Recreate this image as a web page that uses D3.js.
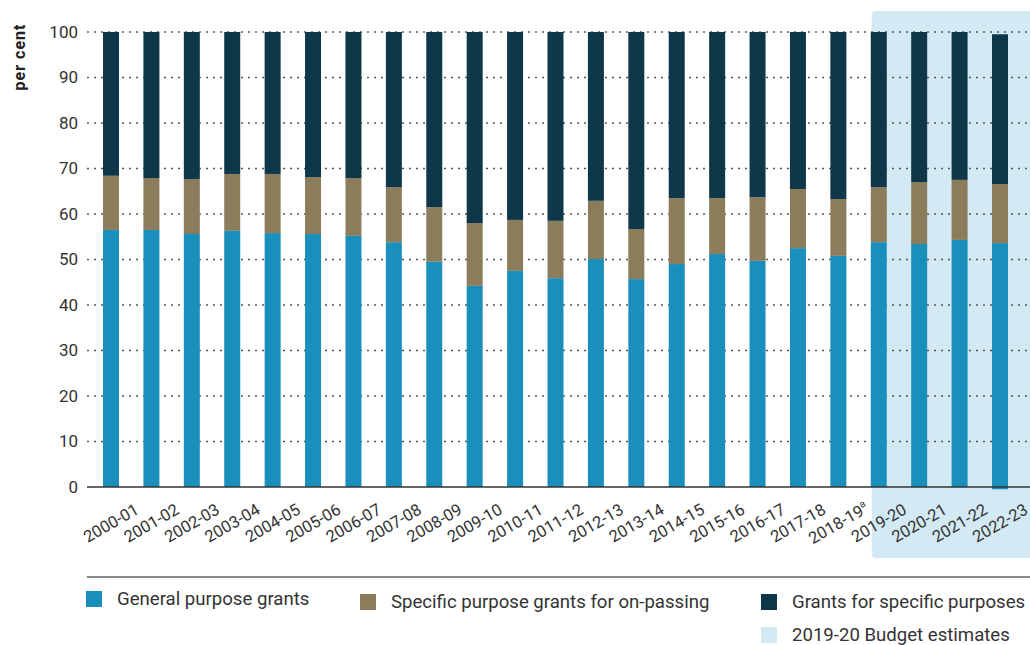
<!DOCTYPE html>
<html>
<head>
<meta charset="utf-8">
<script src="https://cdn.jsdelivr.net/npm/d3@7"></script>
<style>
  body { margin: 0; background: #fff; }
  svg { display: block; font-family: Roboto, "Noto Sans", sans-serif; }
</style>
</head>
<body>
<svg id="chart" width="1030" height="645"></svg>
<script>
// Data (per cent shares of payments to the states)
const years = ['2000-01', '2001-02', '2002-03', '2003-04', '2004-05', '2005-06', '2006-07',
  '2007-08', '2008-09', '2009-10', '2010-11', '2011-12', '2012-13', '2013-14', '2014-15',
  '2015-16', '2016-17', '2017-18', '2018-19', '2019-20', '2020-21', '2021-22', '2022-23'];
const generalPurpose = [56.5, 56.5, 55.6, 56.3, 55.8, 55.6, 55.2, 53.8, 49.5, 44.2, 47.5, 45.9,
  50.1, 45.7, 49.0, 51.2, 49.7, 52.5, 50.8, 53.8, 53.4, 54.3, 54.1];
const onPassing = [11.9, 11.4, 12.1, 12.5, 13.0, 12.5, 12.7, 12.1, 12.0, 13.8, 11.2, 12.6,
  12.8, 11.0, 14.5, 12.3, 14.0, 13.0, 12.5, 12.1, 13.6, 13.2, 13.0];
const specificPurposes = [31.6, 32.1, 32.3, 31.2, 31.2, 31.9, 32.1, 34.1, 38.5, 42.0, 41.3, 41.5,
  37.1, 43.3, 36.5, 36.5, 36.3, 34.5, 36.7, 34.1, 33.0, 32.5, 32.9];
const baseline = [0, 0, 0, 0, 0, 0, 0, 0, 0, 0, 0, 0, 0, 0, 0, 0, 0, 0, 0, 0, 0, 0, -0.5];
const footnoted = ['2018-19'];
const estimateYears = ['2019-20', '2020-21', '2021-22', '2022-23'];
const yTicks = [0, 10, 20, 30, 40, 50, 60, 70, 80, 90, 100];

const seriesKeys = ['general', 'onPassing', 'specific'];
const seriesNames = ['General purpose grants', 'Specific purpose grants for on-passing', 'Grants for specific purposes'];
const colors = ['#1a8fbc', '#8b7d5c', '#0e3749'];
const shadeColor = '#d3e9f3';

const table = years.map((y, i) => ({
  year: y,
  general: generalPurpose[i],
  onPassing: onPassing[i],
  specific: specificPurposes[i],
}));

const svg = d3.select('#chart');
const margin = { left: 87, right: 1030, top: 32, bottom: 487 };

const x = d3.scaleBand()
  .domain(years)
  .range([87, 1024])
  .paddingInner(0.604)
  .paddingOuter(0.396);

const y = d3.scaleLinear()
  .domain([0, 100])
  .range([margin.bottom, margin.top]);

// stack, shifted by a per-year baseline
const stack = d3.stack().keys(seriesKeys).offset((series, order) => {
  d3.stackOffsetNone(series, order);
  for (const s of series) {
    s.forEach((pt, j) => { pt[0] += baseline[j]; pt[1] += baseline[j]; });
  }
});
const stacked = stack(table);

// shaded budget estimates area
const firstEst = x(estimateYears[0]);
svg.append('rect')
  .attr('x', firstEst + 1)
  .attr('y', 11)
  .attr('width', 1040 - firstEst)
  .attr('height', 558 - 11)
  .attr('rx', 4)
  .attr('fill', shadeColor);

// gridlines
svg.append('g')
  .selectAll('line')
  .data(yTicks.filter(d => d > 0))
  .join('line')
  .attr('x1', margin.left)
  .attr('x2', margin.right)
  .attr('y1', d => y(d))
  .attr('y2', d => y(d))
  .attr('stroke', '#555')
  .attr('stroke-width', 1.3)
  .attr('stroke-dasharray', '2,5');

// y tick labels
svg.append('g')
  .selectAll('text')
  .data(yTicks)
  .join('text')
  .attr('x', 78)
  .attr('y', d => y(d))
  .attr('dy', '0.35em')
  .attr('text-anchor', 'end')
  .attr('font-size', 17)
  .attr('fill', '#333')
  .text(d => d);

// y axis title
svg.append('text')
  .attr('transform', 'translate(25,57) rotate(-90)')
  .attr('text-anchor', 'middle')
  .attr('font-size', 16)
  .attr('letter-spacing', 1)
  .attr('font-weight', 'bold')
  .attr('fill', '#222')
  .text('per cent');

// bars
svg.append('g')
  .selectAll('g')
  .data(stacked)
  .join('g')
  .attr('fill', (d, i) => colors[i])
  .selectAll('rect')
  .data(d => d)
  .join('rect')
  .attr('x', d => x(d.data.year))
  .attr('width', x.bandwidth())
  .attr('y', d => y(d[1]))
  .attr('height', d => y(d[0]) - y(d[1]));

// x axis line
svg.append('line')
  .attr('x1', margin.left)
  .attr('x2', margin.right)
  .attr('y1', y(0))
  .attr('y2', y(0))
  .attr('stroke', '#333')
  .attr('stroke-width', 1.5);

// x tick labels
const xl = svg.append('g')
  .selectAll('text')
  .data(years)
  .join('text')
  .attr('transform', d => `translate(${x(d) + x.bandwidth() / 2},523) rotate(-30)`)
  .attr('text-anchor', 'middle')
  .attr('dy', '0.35em')
  .attr('font-size', 16.5)
  .attr('fill', '#333');
xl.append('tspan').text(d => d);
xl.filter(d => footnoted.includes(d))
  .append('tspan')
  .attr('font-size', 10)
  .attr('dy', '-0.7em')
  .text('a');

// legend
svg.append('line')
  .attr('x1', 87)
  .attr('x2', 1030)
  .attr('y1', 577)
  .attr('y2', 577)
  .attr('stroke', '#8a8a8a')
  .attr('stroke-width', 2);

const legendItems = [
  { name: seriesNames[0], color: colors[0], x: 86, y: 591 },
  { name: seriesNames[1], color: colors[1], x: 360, y: 594 },
  { name: seriesNames[2], color: colors[2], x: 761, y: 594 },
  { name: '2019-20 Budget estimates', color: shadeColor, x: 761, y: 627 },
];
const lg = svg.append('g')
  .selectAll('g')
  .data(legendItems)
  .join('g')
  .attr('transform', d => `translate(${d.x},${d.y})`);
lg.append('rect')
  .attr('width', 16)
  .attr('height', 16)
  .attr('fill', d => d.color);
lg.append('text')
  .attr('x', 31)
  .attr('y', 14)
  .attr('font-size', 18.6)
  .attr('fill', '#333')
  .text(d => d.name);
</script>
</body>
</html>
